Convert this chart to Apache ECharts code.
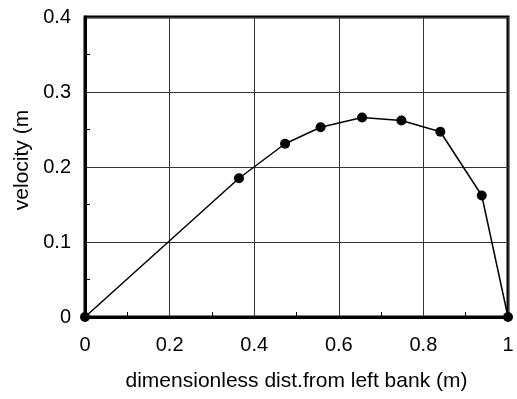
<!DOCTYPE html>
<html>
<head>
<meta charset="utf-8">
<script src="https://cdn.jsdelivr.net/npm/echarts@6/dist/echarts.min.js"></script>
<style>html,body{margin:0;padding:0;background:#fff;}#c{width:517px;height:399px;}</style>
</head>
<body>
<div id="c"></div>
<script>
const xValues = [0, 0.364, 0.473, 0.557, 0.655, 0.748, 0.840, 0.938, 1.0];
const velocity = [0, 0.185, 0.231, 0.253, 0.266, 0.262, 0.247, 0.162, 0];
const xTicks = [0, 0.2, 0.4, 0.6, 0.8, 1];
const yTicks = [0, 0.1, 0.2, 0.3, 0.4];
const xTitle = 'dimensionless dist.from left bank (m)';
const yTitle = 'velocity (m';

const chart = echarts.init(document.getElementById('c'), null, {renderer: 'canvas'});
const font = 'Liberation Sans, Arial, sans-serif';
chart.setOption({
  animation: false,
  backgroundColor: '#fff',
  grid: {left: 85, right: 9, top: 17, bottom: 82, show: true, borderColor: '#000', borderWidth: 3, backgroundColor: 'transparent'},
  xAxis: {
    type: 'value', min: xTicks[0], max: xTicks[xTicks.length - 1], interval: 0.2,
    name: xTitle, nameLocation: 'middle', nameGap: 54,
    nameTextStyle: {fontFamily: font, fontSize: 21, color: '#000'},
    axisLine: {show: true, lineStyle: {color: '#000', width: 3}},
    axisTick: {show: false, inside: true},
    minorTick: {show: true, splitNumber: 2, length: 5, lineStyle: {color: '#000', width: 1}},
    axisLabel: {fontFamily: font, fontSize: 20, color: '#000', margin: 18,
      formatter: v => String(+v.toFixed(1))},
    splitLine: {show: true, lineStyle: {color: '#333', width: 1}}
  },
  yAxis: {
    type: 'value', min: yTicks[0], max: yTicks[yTicks.length - 1], interval: 0.1,
    name: yTitle, nameLocation: 'middle', nameGap: 50,
    nameTextStyle: {fontFamily: font, fontSize: 21, color: '#000', padding: [0, 0, 0, 14]},
    axisLine: {show: true, lineStyle: {color: '#000', width: 3}},
    axisTick: {show: false, inside: true},
    minorTick: {show: true, splitNumber: 2, length: 5, lineStyle: {color: '#000', width: 1}},
    axisLabel: {fontFamily: font, fontSize: 20, color: '#000', margin: 14,
      formatter: v => String(+v.toFixed(1))},
    splitLine: {show: true, lineStyle: {color: '#333', width: 1}}
  },
  series: [{
    type: 'line',
    data: xValues.map((x, i) => [x, velocity[i]]),
    symbol: 'circle', symbolSize: 10,
    itemStyle: {color: '#000'},
    lineStyle: {color: '#000', width: 1.5},
    clip: false
  }]
});
</script>
</body>
</html>
